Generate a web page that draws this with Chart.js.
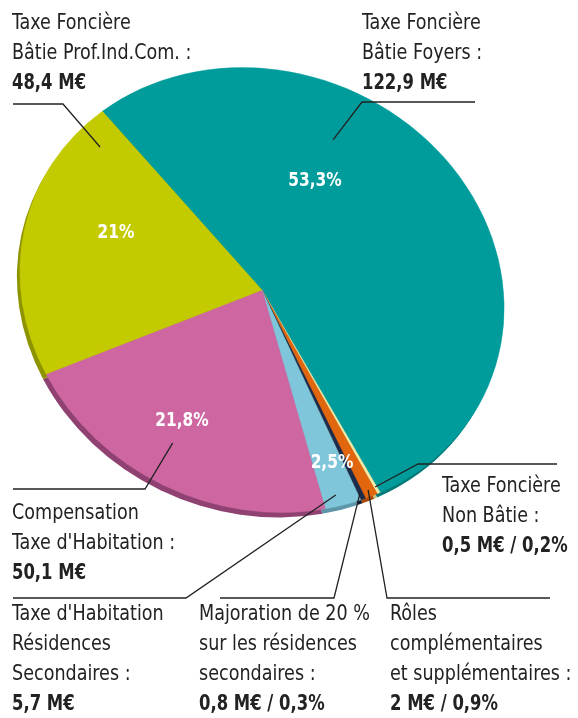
<!DOCTYPE html>
<html>
<head>
<meta charset="utf-8">
<script src="https://cdn.jsdelivr.net/npm/chart.js@4"></script>
<style>
  body { margin: 0; background: #fff; }
  canvas { display: block; }
</style>
</head>
<body>
<canvas id="PieChart" width="578" height="718"></canvas>
<script>
// slices, clockwise from the top-left
const categories = [
  "Taxe Foncière Bâtie Foyers",
  "Taxe Foncière Non Bâtie",
  "Rôles complémentaires et supplémentaires",
  "Majoration de 20 % sur les résidences secondaires",
  "Taxe d'Habitation Résidences Secondaires",
  "Compensation Taxe d'Habitation",
  "Taxe Foncière Bâtie Prof.Ind.Com.",
];
const amounts = [122.9, 0.5, 2, 0.8, 5.7, 50.1, 48.4]; // M€
const shares = ["53,3%", "0,2%", "0,9%", "0,3%", "2,5%", "21,8%", "21%"];
const valueTexts = ["122,9 M€", "0,5 M€ / 0,2%", "2 M€ / 0,9%", "0,8 M€ / 0,3%", "5,7 M€", "50,1 M€", "48,4 M€"];
const labelLines = [
  ["Taxe Foncière", "Bâtie Foyers :"],
  ["Taxe Foncière", "Non Bâtie :"],
  ["Rôles", "complémentaires", "et supplémentaires :"],
  ["Majoration de 20 %", "sur les résidences", "secondaires :"],
  ["Taxe d'Habitation", "Résidences", "Secondaires :"],
  ["Compensation", "Taxe d'Habitation :"],
  ["Taxe Foncière", "Bâtie Prof.Ind.Com. :"],
];

const colors = ["#009c9c", "#f4eba8", "#e2660e", "#1c2c4c", "#80c6da", "#cd66a1", "#c3cb00"];
const rimColors = ["#027a7a", "#c9bf7c", "#a84a08", "#101a30", "#5d96a8", "#8f4272", "#8e9400"];

// the pie is drawn as a tilted ellipse
const TILT = 22 * Math.PI / 180;
const SQUASH = 0.889;
const RIM = { dx: -3, dy: 5 };

function squashMatrix() {
  const c = Math.cos(TILT), s = Math.sin(TILT), k = SQUASH;
  return [c * c + k * s * s, c * s * (1 - k), c * s * (1 - k), s * s + k * c * c];
}

function applySquash(ctx, cx, cy) {
  const m = squashMatrix();
  ctx.translate(cx, cy);
  ctx.transform(m[0], m[1], m[2], m[3], 0, 0);
  ctx.translate(-cx, -cy);
}

// point inside a slice: t along the angle, frac of the radius
function pointOn(arc, t, frac) {
  const m = squashMatrix();
  const a = arc.startAngle + t * (arc.endAngle - arc.startAngle);
  const ux = frac * arc.outerRadius * Math.cos(a);
  const uy = frac * arc.outerRadius * Math.sin(a);
  return [arc.x + m[0] * ux + m[2] * uy, arc.y + m[1] * ux + m[3] * uy];
}

// narrow text (no condensed humanist font here)
function narrowText(ctx, text, x, y, sx) {
  ctx.save();
  ctx.translate(x, y);
  ctx.scale(sx, 1);
  ctx.fillText(text, 0, 0);
  ctx.restore();
}

// text blocks: left x, first line y (middle), slice, leader path
const labelLayout = [
  { x: 362, y: 24, t: 0.333, frac: 0.76, path: [[362, 102], [475, 102]] },
  { x: 442, y: 487, t: 0.5, frac: 0.97, path: [[418, 464], [557, 464]] },
  { x: 390, y: 615, t: 0.5, frac: 0.97, path: [[387, 598], [550, 598]] },
  { x: 199, y: 615, t: 0.5, frac: 0.97, path: [[334, 598], [220, 598]] },
  { x: 12, y: 615, t: 0.6, frac: 0.95, path: [[186, 598], [13, 598]] },
  { x: 12, y: 514, t: 0.54, frac: 0.81, path: [[145, 489], [13, 489]] },
  { x: 12, y: 24, t: 0.903, frac: 0.892, path: [[63, 104], [13, 104]] },
];
const shareLayout = [[315, 181], null, null, null, [332, 463], [182, 421], [116, 233]];

const LINE = 29.7;
const FONT = '"DejaVu Sans Condensed", "DejaVu Sans", sans-serif';

const ellipsePlugin = {
  id: "ellipse",
  beforeDatasetsDraw(chart) {
    const ctx = chart.ctx;
    const arcs = chart.getDatasetMeta(0).data;
    const cx = arcs[0].x, cy = arcs[0].y;
    ctx.save();
    ctx.translate(RIM.dx, RIM.dy);
    applySquash(ctx, cx, cy);
    arcs.forEach((arc, i) => {
      ctx.beginPath();
      ctx.moveTo(arc.x, arc.y);
      ctx.arc(arc.x, arc.y, arc.outerRadius, arc.startAngle, arc.endAngle);
      ctx.closePath();
      ctx.fillStyle = rimColors[i];
      ctx.fill();
    });
    ctx.restore();
    ctx.save();
    applySquash(ctx, cx, cy);
  },
  afterDatasetsDraw(chart) {
    chart.ctx.restore();
  },
  afterDraw(chart) {
    const ctx = chart.ctx;
    const arcs = chart.getDatasetMeta(0).data;
    ctx.save();

    // leader lines
    ctx.strokeStyle = "#222";
    ctx.lineWidth = 1.3;
    labelLayout.forEach((l, i) => {
      const p = pointOn(arcs[i], l.t, l.frac);
      ctx.beginPath();
      ctx.moveTo(p[0], p[1]);
      l.path.forEach(q => ctx.lineTo(q[0], q[1]));
      ctx.stroke();
    });

    // label text
    ctx.textBaseline = "middle";
    ctx.textAlign = "left";
    ctx.fillStyle = "#222";
    labelLayout.forEach((l, i) => {
      ctx.font = "21px " + FONT;
      labelLines[i].forEach((line, j) => narrowText(ctx, line, l.x, l.y + j * LINE, 0.93));
      ctx.font = "bold 21px " + FONT;
      narrowText(ctx, valueTexts[i], l.x, l.y + labelLines[i].length * LINE, 0.87);
    });

    // shares inside the slices
    ctx.fillStyle = "#fff";
    ctx.textAlign = "center";
    ctx.font = "bold 19px " + FONT;
    shareLayout.forEach((p, i) => {
      if (p) narrowText(ctx, shares[i], p[0], p[1], 0.9);
    });
    ctx.restore();
  },
};

const pieCTX = document.getElementById("PieChart").getContext("2d");

const configPie = {
  type: "pie",
  data: {
    labels: categories,
    datasets: [
      {
        data: amounts,
        backgroundColor: colors,
        borderColor: colors,
        borderWidth: 0.5,
      },
    ],
  },
  options: {
    responsive: false,
    animation: false,
    rotation: -39,
    layout: {
      padding: { left: 16, right: 70, top: 44, bottom: 182 },
    },
    plugins: {
      legend: { display: false },
      tooltip: { enabled: false },
    },
  },
  plugins: [ellipsePlugin],
};

const myPieChart = new Chart(pieCTX, configPie);
</script>
</body>
</html>
